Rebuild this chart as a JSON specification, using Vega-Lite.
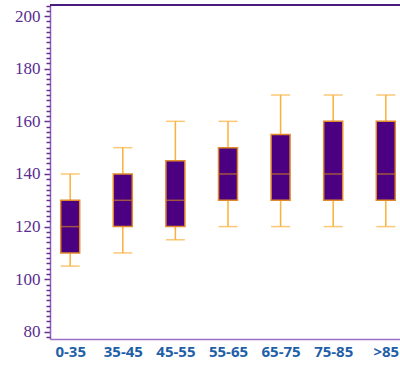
{
  "$schema": "https://vega.github.io/schema/vega-lite/v6.json",
  "autosize": {"type": "none"},
  "padding": {"left": 50, "top": 5, "right": 0, "bottom": 28},
  "width": 350,
  "height": 334,
  "config": {"view": {"stroke": null}},
  "data": {"values": [
    {"age": "0-35", "min": 105, "q1": 110, "median": 120, "q3": 130, "max": 140},
    {"age": "35-45", "min": 110, "q1": 120, "median": 130, "q3": 140, "max": 150},
    {"age": "45-55", "min": 115, "q1": 120, "median": 130, "q3": 145, "max": 160},
    {"age": "55-65", "min": 120, "q1": 130, "median": 140, "q3": 150, "max": 160},
    {"age": "65-75", "min": 120, "q1": 130, "median": 140, "q3": 155, "max": 170},
    {"age": "75-85", "min": 120, "q1": 130, "median": 140, "q3": 160, "max": 170},
    {"age": ">85", "min": 120, "q1": 130, "median": 140, "q3": 160, "max": 170}
  ]},
  "layer": [
    {
      "mark": {"type": "rule", "color": "#fbb03b", "strokeWidth": 1.5},
      "encoding": {
        "x": {
          "field": "age", "type": "nominal", "sort": null,
          "scale": {"type": "point", "padding": 0.327, "align": 0.587},
          "axis": {
            "title": null, "labelAngle": 0, "ticks": false,
            "domainColor": "#9b6fc8", "domainWidth": 1.5,
            "labelColor": "#1f5fa8", "labelFont": "Open Sans", "labelFontWeight": "bold",
            "labelFontSize": 15, "labelPadding": 5, "labelOverlap": false, "grid": false
          }
        },
        "y": {
          "field": "min", "type": "quantitative",
          "scale": {"domain": [77.3, 204.2], "nice": false, "zero": false},
          "axis": {
            "title": null, "orient": "left", "values": [80, 100, 120, 140, 160, 180, 200],
            "grid": false, "tickSize": 6, "tickColor": "#6a2c91", "tickWidth": 1.5,
            "domainColor": "#8b5fbf", "domainWidth": 1.5,
            "labelColor": "#5a2d91", "labelFont": "Times New Roman, Liberation Serif, serif", "labelFontSize": 17,
            "labelPadding": 4
          }
        },
        "y2": {"field": "max"}
      }
    },
    {
      "mark": {"type": "tick", "color": "#fbb03b", "size": 19, "thickness": 1.5},
      "encoding": {
        "x": {"field": "age", "type": "nominal", "sort": null},
        "y": {"field": "min", "type": "quantitative",
          "axis": {
            "title": null, "orient": "left",
            "values": [78, 82, 84, 86, 88, 90, 92, 94, 96, 98, 102, 104, 106, 108, 110, 112, 114, 116, 118, 122, 124, 126, 128, 130, 132, 134, 136, 138, 142, 144, 146, 148, 150, 152, 154, 156, 158, 162, 164, 166, 168, 170, 172, 174, 176, 178, 182, 184, 186, 188, 190, 192, 194, 196, 198, 202, 204],
            "grid": false, "labels": false, "domain": false, "tickSize": 4,
            "tickColor": "#6a2c91", "tickWidth": 1.5
          }
        }
      }
    },
    {
      "mark": {"type": "tick", "color": "#fbb03b", "size": 19, "thickness": 1.5},
      "encoding": {
        "x": {"field": "age", "type": "nominal", "sort": null},
        "y": {"field": "max", "type": "quantitative", "axis": null}
      }
    },
    {
      "mark": {"type": "bar", "size": 19, "fill": "#4b0082", "stroke": "#e08a2a", "strokeWidth": 1.5},
      "encoding": {
        "x": {"field": "age", "type": "nominal", "sort": null},
        "y": {"field": "q1", "type": "quantitative", "axis": null},
        "y2": {"field": "q3"}
      }
    },
    {
      "mark": {"type": "tick", "color": "#c8762a", "size": 19, "thickness": 1.5},
      "encoding": {
        "x": {"field": "age", "type": "nominal", "sort": null},
        "y": {"field": "median", "type": "quantitative", "axis": null}
      }
    },
    {
      "mark": {"type": "rule", "color": "#4b1c80", "strokeWidth": 1.5},
      "encoding": {"y": {"datum": 204.2, "type": "quantitative", "axis": null}}
    }
  ],
  "resolve": {"axis": {"y": "independent"}}
}
